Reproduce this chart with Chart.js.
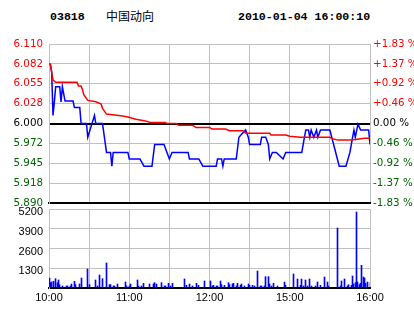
<!DOCTYPE html>
<html><head><meta charset="utf-8">
<script src="https://cdn.jsdelivr.net/npm/chart.js@4"></script>
<style>
html,body{margin:0;padding:0;background:#fff;}
#wrap{position:relative;width:414px;height:314px;overflow:hidden;background:#fff;}
canvas{position:absolute;left:0;top:0;}
.hd{position:absolute;top:11px;font:bold 11.6px "Liberation Mono",monospace;line-height:12px;color:#000;white-space:nowrap;}
.cn{position:absolute;top:10px;font:12px "Noto Sans CJK SC",sans-serif;line-height:12px;color:#000;white-space:nowrap;}
</style></head><body>
<div id="wrap">
<div class="hd" id="code" style="left:50px"></div>
<div class="cn" id="name" style="left:106px"></div>
<div class="hd" id="stamp" style="left:238px"></div>
<canvas id="p" width="414" height="314"></canvas>
<canvas id="v" width="414" height="314"></canvas>
</div>
<script>
// ---- header ----
const stockCode = '03818';
const stockName = '中国动向';
const stampText = '2010-01-04 16:00:10';

// ---- axes ----
const prevClose = 6.000;
const priceTicks = [5.89, 5.9175, 5.945, 5.9725, 6.0, 6.0275, 6.055, 6.0825, 6.11];
const priceLabels = ['5.890','5.918','5.945','5.972','6.000','6.028','6.055','6.082','6.110'];
const pctLabels = ['-1.83 %','-1.37 %','-0.92 %','-0.46 %','0.00 %','+0.46 %','+0.92 %','+1.37 %','+1.83 %'];
const gridTimes = [0,30,60,90,120,150,180,210,240];          // minutes of trading
const timeTickValues = [0,60,120,180,240];
const timeTickLabels = ['10:00','11:00','12:00','15:00','16:00'];
const volTicks = [0,1300,2600,3900,5200];
const volLabels = ['','1300','2600','3900','5200'];

// ---- price series (minute, price) ----
const priceTimes = [0,1,2,3,4,5,8,9,10,11,
 12,18,19,23,24,28,29,34,35,40,
 43,46,47,48,59,60,68,71,77,79,
 86,90,92,104,105,112,115,125,126,129,
 130,131,140,142,144,147,149,150,158,159,
 162,164,165,167,170,175,177,189,191,192,
 194,195,196,198,200,201,203,210,217,222,
 225,227,228,229,231,233,239,240];
const priceValues = [6.082,6.082,6.071,6.011,6.030,6.051,6.051,6.030,6.051,6.041,
 6.031,6.031,6.022,6.022,6.000,6.000,5.981,6.011,6.000,6.000,
 5.960,5.960,5.941,5.960,5.960,5.951,5.951,5.941,5.941,5.971,
 5.971,5.951,5.960,5.960,5.951,5.951,5.941,5.941,5.951,5.951,
 5.941,5.951,5.951,5.981,5.985,5.991,5.981,5.971,5.971,5.981,
 5.981,5.971,5.951,5.960,5.960,5.951,5.960,5.960,5.981,5.991,
 5.991,5.981,5.991,5.981,5.991,5.981,5.991,5.991,5.941,5.941,
 5.960,5.981,5.991,5.981,5.999,5.991,5.991,5.971];

// ---- average price series ----
const avgTimes = [0,1,2,3,5,21,22,24,25,26,
 29,35,39,40,43,55,59,65,72,76,
 87,88,95,97,107,110,120,122,132,135,
 145,147,165,166,177,180,188,210,212,216,
 227,229,236,240];
const avgValues = [6.082,6.082,6.071,6.060,6.057,6.057,6.052,6.052,6.047,6.040,
 6.032,6.030,6.027,6.021,6.013,6.0105,6.009,6.006,6.0036,6.0014,
 6.0014,6.000,6.000,5.9977,5.9977,5.9945,5.9945,5.9923,5.9923,5.990,
 5.990,5.9866,5.9866,5.9842,5.9842,5.9824,5.981,5.981,5.979,5.977,
 5.977,5.978,5.9797,5.9797];

// ---- volume ----
const volTimes = [0,1,2,3,5,6,7,8,10,13,
 14,16,17,19,20,23,24,29,30,35,
 36,38,40,43,45,46,48,49,51,57,
 58,60,61,66,67,69,71,75,78,79,
 80,84,86,87,89,91,92,101,103,105,
 107,110,112,116,121,122,123,125,126,128,
 129,131,134,135,137,138,140,141,143,144,
 146,149,150,152,154,156,158,159,161,162,
 164,165,166,168,171,176,177,183,186,188,
 189,190,192,193,195,196,199,201,203,206,
 208,209,216,218,219,221,223,224,226,227,
 228,229,230,231,232,233,234,235,236,237,
 238,240];
const volValues = [658,351,395,439,614,351,527,219,132,132,
 132,132,263,439,219,263,658,1250,219,527,
 132,856,614,1645,219,219,132,132,263,395,
 132,132,263,527,132,132,307,263,263,351,
 263,351,132,132,307,132,307,592,176,263,
 132,307,176,461,461,132,176,132,132,461,
 219,176,351,219,263,307,132,307,176,263,
 132,263,176,176,132,1119,132,132,132,746,
 746,263,132,307,132,395,176,921,592,176,
 592,132,527,132,592,132,132,395,176,724,
 395,132,3949,132,461,592,132,219,176,790,
 263,351,5002,395,219,307,1492,724,658,307,
 395,351];

document.getElementById('code').textContent = stockCode;
document.getElementById('name').textContent = stockName;
document.getElementById('stamp').textContent = stampText;

const GRID = '#c0c0c0';
const UP = '#ff0000', DOWN = '#006400';
const near = (a,b)=>Math.abs(a-b)<1e-6;
const tickColor = c => { const v = c.tick ? c.tick.value : prevClose; return near(v,prevClose) ? '#000' : (v > prevClose ? UP : DOWN); };
const setTicks = arr => s => { s.ticks = arr.map(v=>({value:v})); };
const common = {responsive:false, animation:false, events:[], plugins:{legend:{display:false}, tooltip:{enabled:false}}};

// snap 1px bars onto whole pixel columns so they render crisp
const crispBars = {
  id:'crispBars',
  beforeDatasetsDraw(chart){
    chart.getSortedVisibleDatasetMetas().forEach(m=>{
      m.data.forEach(b=>{ b.x = Math.floor(b.x) + 0.5; });
    });
  }
};

new Chart(document.getElementById('p'), {
  type:'line',
  data:{datasets:[
    {data: avgTimes.map((t,i)=>({x:t,y:avgValues[i]})), borderColor:UP, borderWidth:1.5, pointRadius:0, tension:0},
    {data: priceTimes.map((t,i)=>({x:t,y:priceValues[i]})), borderColor:'#0000ff', borderWidth:1.5, pointRadius:0, tension:0}
  ]},
  options:Object.assign({}, common, {
    layout:{padding:{top:44,bottom:111,left:0,right:0}},
    scales:{
      x:{type:'linear', min:0, max:240, afterBuildTicks:setTicks(gridTimes),
         ticks:{display:false}, grid:{color:GRID, drawTicks:false, lineWidth:1},
         border:{color:'#000', width:2}, afterFit:s=>{s.height=0;}},
      y:{position:'left', min:5.89, max:6.11, afterBuildTicks:setTicks(priceTicks),
         ticks:{callback:(v,i)=>priceLabels[i], color:tickColor, padding:6, font:{family:'DejaVu Sans', size:10.3}},
         grid:{drawTicks:false, color:c=>(near(c.tick.value,prevClose)||near(c.tick.value,5.89))?'#000':GRID,
               lineWidth:c=>(near(c.tick.value,prevClose)||near(c.tick.value,5.89))?2:1},
         border:{color:GRID}, afterFit:s=>{s.width=49;}},
      y2:{position:'right', min:5.89, max:6.11, afterBuildTicks:setTicks(priceTicks),
         ticks:{callback:(v,i)=>pctLabels[i], color:tickColor, padding:3, font:{family:'DejaVu Sans', size:10.3}},
         grid:{drawOnChartArea:false, drawTicks:false}, border:{display:false}, afterFit:s=>{s.width=44;}}
    }
  })
});

new Chart(document.getElementById('v'), {
  type:'bar',
  data:{datasets:[{data: volTimes.map((t,i)=>({x:t,y:volValues[i]})), backgroundColor:'#0000ff', barThickness:1, borderWidth:0}]},
  plugins:[crispBars],
  options:Object.assign({}, common, {
    layout:{padding:{top:209,bottom:0,left:0,right:0}},
    scales:{
      x:{type:'linear', min:0, max:240, offset:false, afterBuildTicks:setTicks(gridTimes),
         ticks:{autoSkip:false, maxRotation:0, padding:3, color:'#000', font:{family:'Liberation Sans', size:11},
                callback:v=>{const k=timeTickValues.indexOf(v); return k<0?'':timeTickLabels[k];}},
         grid:{offset:false, color:GRID, drawTicks:false}, border:{color:'#000', width:2}, afterFit:s=>{s.height=26;}},
      y:{position:'left', min:0, max:5200, afterBuildTicks:setTicks(volTicks),
         ticks:{callback:(v,i)=>volLabels[i], color:'#000', padding:6, labelOffset:3, font:{family:'Liberation Sans', size:11}},
         grid:{drawTicks:false, color:c=>c.tick.value===0?'#000':GRID, lineWidth:c=>c.tick.value===0?2:1},
         border:{color:GRID}, afterFit:s=>{s.width=49;}},
      y2:{position:'right', min:0, max:5200, ticks:{display:false},
         grid:{drawOnChartArea:false, drawTicks:false}, border:{display:false}, afterFit:s=>{s.width=44;}}
    }
  })
});
</script>
</body></html>
